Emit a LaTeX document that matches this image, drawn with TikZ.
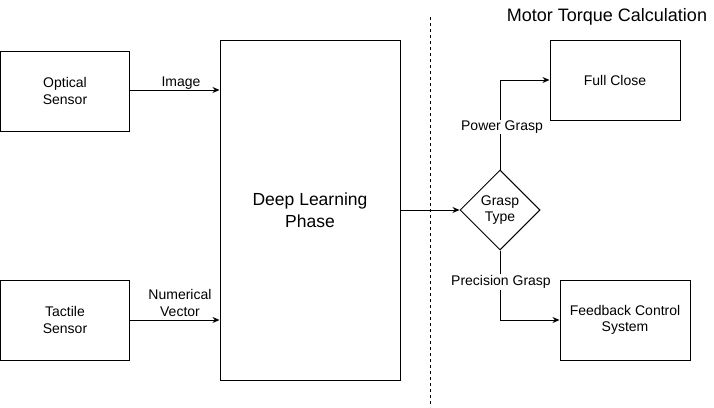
\documentclass[tikz,border=0pt]{standalone}
\usepackage{fontspec}
\setmainfont{Liberation Sans}
\usetikzlibrary{arrows.meta,shapes.geometric}
\begin{document}
\begin{tikzpicture}[x=1pt,y=-1pt,
  every node/.style={font=\fontsize{14}{16.5}\selectfont},
  box/.style={draw,line width=1pt,align=center,inner sep=0pt},
  conn/.style={line width=1pt,-{Stealth[length=7pt,width=6pt]}},
  lbl/.style={fill=white,inner sep=1pt,align=center}]
\useasboundingbox (0,0) rectangle (714,407);
\fill[white] (0,0) rectangle (714,407);
% boxes
\node[box,minimum width=129pt,minimum height=80pt] (opt) at (65,91) {Optical\\Sensor};
\node[box,minimum width=129pt,minimum height=80pt] (tac) at (65,320) {Tactile\\Sensor};
\node[box,minimum width=180pt,minimum height=340pt,font=\fontsize{17.5}{22}\selectfont] (dl) at (310,210) {Deep Learning\\Phase};
\node[box,minimum width=130pt,minimum height=80pt] (full) at (615,80) {Full Close};
\node[box,minimum width=130pt,minimum height=80pt] (fb) at (625,320) {Feedback Control\\System};
\node[draw,line width=1pt,diamond,aspect=1,minimum width=80pt,minimum height=80pt,inner sep=0pt,align=center] (gt) at (500,210) {Grasp\\Type};
% title and separator
\node[font=\fontsize{18}{21}\selectfont] (title) at (607,16.5) {Motor Torque Calculation};
\coordinate (st) at (430,17);
\coordinate (sb) at (430,407);
\draw[line width=1pt,dash pattern=on 3pt off 3pt] (st) -- (sb);
% connectors
\draw[conn] (opt.east |- 0,90) -- (dl.west |- 0,90);
\node[anchor=base] (limg) at (181,86) {Image};
\draw[conn] (tac.east) -- (dl.west |- tac.east);
\node[anchor=base,align=center] (lnv) at (180,316) {Numerical\\Vector};
\draw[conn] (dl.east |- gt.west) -- (gt.west);
\draw[conn] (gt.north) |- (full.west);
\node[lbl] (lpg) at (502,127) {Power Grasp};
\draw[conn] (gt.south) |- (fb.west);
\node[lbl] (lpc) at (501,282) {Precision Grasp};
\end{tikzpicture}
\end{document}
